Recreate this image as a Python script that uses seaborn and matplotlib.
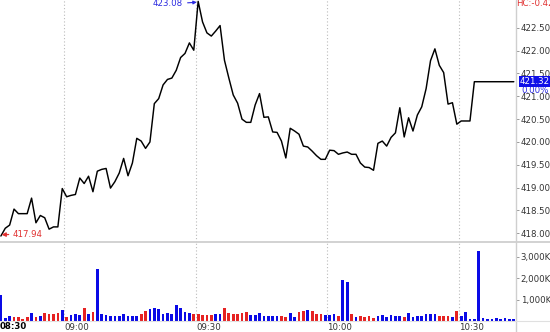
import numpy as np
import pandas as pd
import matplotlib
matplotlib.use("Agg")
import matplotlib.pyplot as plt
import matplotlib.transforms as mtrans
from matplotlib.lines import Line2D
import seaborn as sns

# ---------------- data ----------------
# one point per minute starting 08:45 (minute index 0)
price = [417.94, 418.11, 418.18, 418.53, 418.43, 418.43, 418.43, 418.77, 418.23, 418.39,
         418.34, 418.09, 418.14, 418.14, 418.98, 418.80, 418.83, 418.85, 419.21, 419.09,
         419.25, 418.91, 419.36, 419.40, 419.42, 418.99, 419.13, 419.32, 419.64, 419.26,
         419.54, 420.08, 420.02, 419.86, 420.00, 420.84, 420.95, 421.25, 421.37, 421.40,
         421.57, 421.85, 421.94, 422.17, 422.01, 423.08, 422.63, 422.39, 422.32, 422.43,
         422.55, 421.79, 421.40, 421.03, 420.85, 420.50, 420.43, 420.43, 420.81, 421.06,
         420.54, 420.55, 420.22, 420.21, 420.02, 419.65, 420.30, 420.24, 420.17, 419.91,
         419.89, 419.80, 419.70, 419.62, 419.62, 419.82, 419.81, 419.73, 419.76, 419.78,
         419.73, 419.73, 419.54, 419.45, 419.44, 419.38, 419.97, 420.02, 419.91, 420.10,
         420.20, 420.75, 420.11, 420.53, 420.24, 420.59, 420.77, 421.17, 421.78, 422.04,
         421.68, 421.52, 420.83, 420.86, 420.39, 420.46, 420.46, 420.46, 421.32, 421.32,
         421.32, 421.32, 421.32, 421.32, 421.32, 421.32, 421.32, 421.32]

volume_k = [1220, 157, 250, 200, 190, 95, 190, 390, 200, 250,
            360, 330, 310, 360, 500, 200, 280, 345, 280, 595,
            330, 420, 2430, 310, 280, 250, 250, 250, 310, 250,
            250, 250, 310, 455, 550, 625, 565, 330, 360, 345,
            765, 595, 440, 390, 345, 345, 280, 280, 280, 310,
            345, 625, 390, 330, 330, 390, 405, 265, 265, 360,
            235, 235, 250, 220, 250, 200, 360, 190, 405, 455,
            515, 485, 330, 330, 280, 280, 310, 235, 1925, 1845,
            330, 190, 250, 200, 250, 140, 235, 265, 170, 265,
            235, 250, 170, 360, 200, 250, 250, 330, 330, 330,
            235, 235, 235, 200, 455, 250, 405, 80, 80, 3270,
            155, 95, 95, 155, 80, 140, 80, 110]

direction = list("bbbrrrrbrb" "rrrrbrbbbr" "brbbbbbbbb" "bbrrbbbbbb"
                 "bbbbrrrrrb" "brrrrrrbbb" "bbbbrrbbrr" "brrrbbbrbb"
                 "rbrrrrbbbb" "bbrbbbbbbb" "rrrbrbbbbb" "bbbbbbbb")

tick_times = ["09:00", "09:30", "10:00", "10:30"]
tick_minutes = [30, 60, 90, 120]          # minutes after 08:30
first_label = "08:30"
price_ticks = [418.0, 418.5, 419.0, 419.5, 420.0, 420.5, 421.0, 421.5, 422.0, 422.5]
vol_ticks = [1000, 2000, 3000]
vol_tick_labels = ["1,000K", "2,000K", "3,000K"]
open_price = 417.94
high_price = 423.08
last_price = 421.32
change_pct = "0.00%"
hc_text = "HC:-0.42"

# minutes after 08:30, bar centred in its minute
t = [15.5 + i for i in range(len(price))]
df = pd.DataFrame({"t": t, "price": price, "vol": volume_k,
                   "dir": ["up" if d == "b" else "down" for d in direction]})

# ---------------- style ----------------
sns.set_style("white")
plt.rcParams["font.family"] = ["DejaVu Sans"]

BLUE = "#0a0ae6"
RED = "#e62222"
GRID = "#bbbbbb"
AXC = "#cfcfcf"
FS = 6.2

fig = plt.figure(figsize=(5.5, 3.32), dpi=100)
W, H = 550.0, 332.0
right_px = 516.0
ax_p = fig.add_axes([0, 1 - 241.5 / H, right_px / W, 241.5 / H])
ax_v = fig.add_axes([0, 1 - 321 / H, right_px / W, 79.5 / H], sharex=ax_p)

# price line
sns.lineplot(data=df, x="t", y="price", ax=ax_p, color="black", lw=1.05)

# volume bars (up minutes blue, down minutes red)
for key, col in (("up", BLUE), ("down", RED)):
    sub = df[df["dir"] == key]
    sns.barplot(data=sub, x="t", y="vol", native_scale=True, width=0.62,
                color=col, saturation=1, linewidth=0, errorbar=None, ax=ax_v)

xlim = (15.3, 133.0)
ax_p.set_xlim(*xlim)
ax_p.set_ylim(417.82, 423.11)
ax_v.set_ylim(0, 3720)

for ax in (ax_p, ax_v):
    for s in ax.spines.values():
        s.set_visible(False)
    ax.set_xlabel("")
    ax.set_ylabel("")
    ax.yaxis.tick_right()
    ax.tick_params(axis="y", length=2.2, width=0.7, color="#999999", pad=1.2,
                   labelsize=FS, labelcolor="#333333")
    for m in tick_minutes:
        ax.axvline(m, color=GRID, ls=(0, (1, 2)), lw=0.8, zorder=0)

ax_p.set_yticks(price_ticks)
ax_p.set_yticklabels([f"{v:.2f}" for v in price_ticks])
ax_p.tick_params(axis="x", bottom=False, labelbottom=False)

ax_v.set_yticks(vol_ticks)
ax_v.set_yticklabels(vol_tick_labels)
ax_v.set_xticks(tick_minutes)
ax_v.set_xticklabels(tick_times)
ax_v.set_xlim(*xlim)
ax_v.tick_params(axis="x", length=0, pad=1.8, labelsize=FS, labelcolor="#333333")
for lab in ax_v.get_xticklabels():
    lab.set_ha("left")
tr_v = mtrans.blended_transform_factory(ax_v.transData, ax_v.transAxes)
ax_v.text(xlim[0], -0.075, first_label, transform=tr_v, ha="left", va="center",
          fontsize=FS, fontweight="bold", color="black", clip_on=False)

# frame lines
fig.add_artist(Line2D([right_px / W] * 2, [0, 1], color=AXC, lw=1.0))
fig.add_artist(Line2D([0, 1], [1 - 241.5 / H] * 2, color=AXC, lw=1.3))
fig.add_artist(Line2D([0, 1], [1 - 321 / H] * 2, color="#e0e0e0", lw=0.8))

# annotations
i_max = int(np.argmax(price))
ax_p.annotate(f"{high_price:.2f}", xy=(t[i_max] - 0.3, high_price - 0.02),
              xytext=(-10, -1.2), textcoords="offset points", ha="right", va="center",
              fontsize=FS, color="#2a2ae0",
              arrowprops=dict(arrowstyle="-|>", color="#2a2ae0", lw=0.8,
                              mutation_scale=5, shrinkA=1, shrinkB=0))
ax_p.annotate(f"{open_price:.2f}", xy=(t[0] + 0.15, open_price + 0.03),
              xytext=(8, 0.3), textcoords="offset points", ha="left", va="center",
              fontsize=FS, color="#e03030",
              arrowprops=dict(arrowstyle="-|>", color="#e03030", lw=0.9,
                              mutation_scale=6, shrinkA=0.5, shrinkB=0))

tr_p = mtrans.blended_transform_factory(ax_p.transAxes, ax_p.transData)
ax_p.text(1.0 + 4 / right_px, last_price, f"{last_price:.2f}", transform=tr_p,
          ha="left", va="center", fontsize=FS, color="white", clip_on=False,
          bbox=dict(boxstyle="square,pad=0.12", fc="#1010e8", ec="none"), zorder=5)
ax_p.text(1.0 + 5 / right_px, 421.13, change_pct, transform=tr_p, ha="left",
          va="center", fontsize=FS, color="#2a2ae0", clip_on=False)
ax_p.text(1.0 + 0.5 / right_px, 1 - 4 / 241.5, hc_text, transform=ax_p.transAxes,
          ha="left", va="center", fontsize=FS, color="#e03030", clip_on=False)

fig.savefig("out.png", dpi=100)
